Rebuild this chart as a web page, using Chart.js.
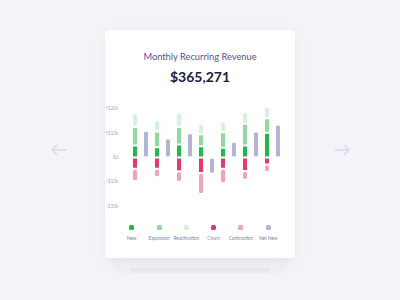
<!DOCTYPE html>
<html>
<head>
<meta charset="utf-8">
<script src="https://cdn.jsdelivr.net/npm/chart.js@4.4.0/dist/chart.umd.min.js"></script>
<style>
  html, body { margin: 0; padding: 0; }
  body {
    width: 400px; height: 300px; overflow: hidden; position: relative;
    background: #f4f4f8; font-family: Lato, "Noto Sans", sans-serif;
  }
  .layer { position: absolute; border-radius: 3px; }
  .l3 { left: 130px; top: 60px; width: 140px; height: 213px; background: #eeeef3; }
  .l2 { left: 115px; top: 50px; width: 170px; height: 218px; background: #f0f0f5; box-shadow: 0 2px 6px rgba(120,120,160,0.08); }
  .card { left: 105px; top: 30px; width: 190px; height: 228px; background: #fff; box-shadow: 0 4px 14px rgba(120,120,170,0.10); }
  .title { position: absolute; left: 0; width: 190px; top: 21px; text-align: center; font-size: 9.3px; color: #52529e; }
  .amount { position: absolute; left: 0; width: 190px; top: 38px; text-align: center; font-size: 14px; font-weight: bold; color: #20203d; }
  #wrap { position: absolute; left: 0; top: 70px; width: 190px; height: 112px; }
  #legend { position: absolute; left: 0; top: 195px; width: 190px; height: 20px; }
  .item { position: absolute; top: 0; width: 30px; margin-left: -15px; text-align: center; }
  .dot { width: 5px; height: 5px; border-radius: 1.5px; margin: 0 auto; }
  .lbl { font-size: 4.7px; color: #8080b2; margin-top: 5px; white-space: nowrap; }
  svg.arrow { position: absolute; top: 143px; }
</style>
</head>
<body>
<svg class="arrow" style="left:50px" width="18" height="14"><path d="M16 7H2M7 2L2 7l5 5" stroke="#d6d6f0" stroke-width="1.3" fill="none"/></svg>
<svg class="arrow" style="left:333px" width="18" height="14"><path d="M2 7h14M11 2l5 5-5 5" stroke="#d6d6f0" stroke-width="1.3" fill="none"/></svg>
<div class="layer l3"></div>
<div class="layer l2"></div>
<div class="layer card">
  <div class="title">Monthly Recurring Revenue</div>
  <div class="amount">$365,271</div>
  <div id="wrap"><canvas id="myChart"></canvas></div>
  <div id="legend"></div>
</div>
<script>
const months = ['Jan', 'Feb', 'Mar', 'Apr', 'May', 'Jun', 'Jul'];
const newRev = [4.9, 4.2, 5.3, 4.6, 4.0, 4.9, 10.1];
const expansion = [7.6, 6.4, 7.2, 4.9, 6.3, 8.9, 6.0];
const reactivation = [5.8, 4.7, 5.8, 4.4, 4.6, 4.9, 4.7];
const churn = [-4.6, -4.6, -5.7, -6.4, -4.6, -5.6, -2.9];
const contraction = [-5.1, -3.5, -4.4, -8.6, -6.0, -3.6, -3.1];
const netNew = [11.0, 7.9, 10.0, -6.7, 6.4, 10.6, 13.5];
const yTicks = [-20, -10, 0, 10, 20];

function ds(label, data, color, stack) {
    return {
        label: label,
        data: data,
        backgroundColor: color,
        borderColor: '#ffffff',
        borderWidth: 1,
        borderSkipped: false,
        borderRadius: 2.5,
        stack: stack
    };
}

const datasets = [
    ds('New', newRev, '#1fba4e', 'flow'),
    ds('Expansion', expansion, '#8fdb9f', 'flow'),
    ds('Reactivation', reactivation, '#d4f3db', 'flow'),
    ds('Churn', churn, '#e2396f', 'flow'),
    ds('Contraction', contraction, '#f2a3bb', 'flow'),
    ds('Net New', netNew, '#b3b3d6', 'net')
];

const ctx = document.getElementById('myChart').getContext('2d');
new Chart(ctx, {
    type: 'bar',
    data: { labels: months, datasets: datasets },
    options: {
        responsive: true,
        maintainAspectRatio: false,
        animation: false,
        layout: { padding: { left: 0, right: 11.5, top: 6.3, bottom: 4 } },
        plugins: { legend: { display: false }, tooltip: { enabled: false } },
        datasets: { bar: { categoryPercentage: 1, barPercentage: 0.55 } },
        scales: {
            x: { stacked: true, display: false },
            y: {
                stacked: true,
                min: -20,
                max: 21,
                border: { display: false },
                grid: { display: false },
                afterBuildTicks: function (scale) {
                    scale.ticks = yTicks.map(v => ({ value: v }));
                },
                afterFit: function (scale) {
                    scale.width = 24.5;
                },
                ticks: {
                    padding: 3,
                    color: '#a9a9cf',
                    font: { size: 4.8, family: 'Lato' },
                    callback: function (v) {
                        if (v === 0) return '$0';
                        return (v > 0 ? '+' : '-') + '$' + Math.abs(v) + 'k';
                    }
                }
            }
        }
    }
});

// legend below the chart, dot above the label
const legend = document.getElementById('legend');
datasets.forEach(function (d, i) {
    const item = document.createElement('div');
    item.className = 'item';
    item.style.left = (26.7 + i * 27.3) + 'px';
    item.innerHTML = '<div class="dot" style="background:' + d.backgroundColor + '"></div><div class="lbl">' + d.label + '</div>';
    legend.appendChild(item);
});
</script>
</body>
</html>
